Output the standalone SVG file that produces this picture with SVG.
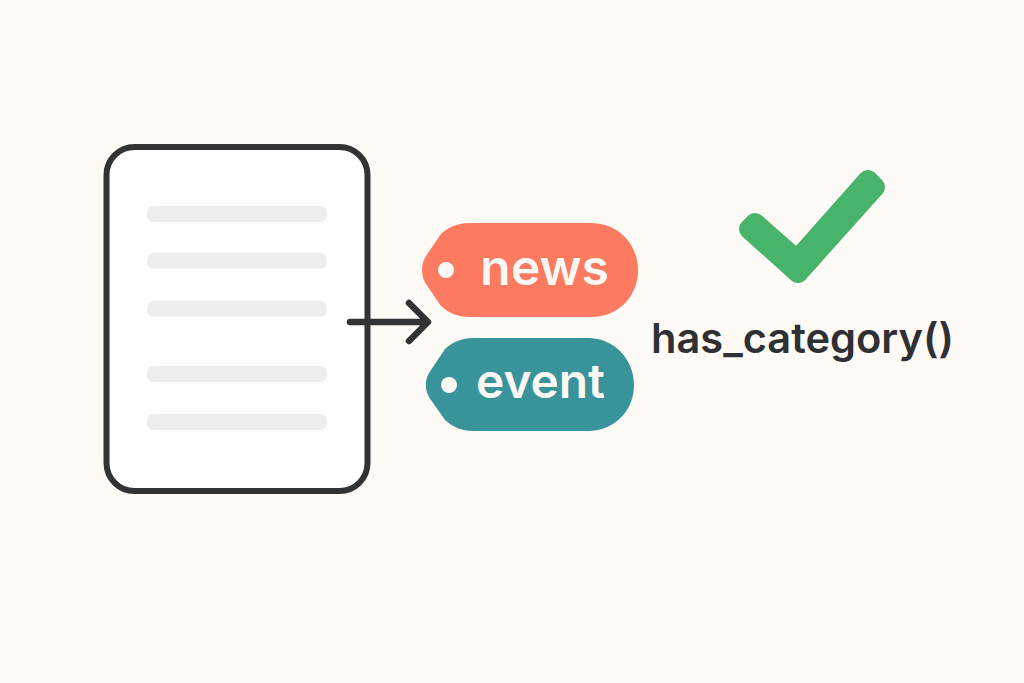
<svg xmlns="http://www.w3.org/2000/svg" width="1024" height="683" viewBox="0 0 1024 683">
<style>
.line{fill:#eceded}
.lbl{font-family:"Inter","Noto Sans","Liberation Sans",sans-serif;font-weight:600;fill:#fcf8f3}
.dot{fill:#fcf8f3}
</style>
<rect width="1024" height="683" fill="#fefbf6"/>
<g id="document">
<rect x="106.500" y="147" width="261" height="344" rx="28" fill="#fefefe" stroke="#323335" stroke-width="6"/>
<rect class="line" x="147" y="206" width="180" height="16" rx="7"/>
<rect class="line" x="147" y="253" width="180" height="16" rx="7"/>
<rect class="line" x="147" y="301" width="180" height="16" rx="7"/>
<rect class="line" x="147" y="366" width="180" height="16" rx="7"/>
<rect class="line" x="147" y="414" width="180" height="16" rx="7"/>
</g>
<g id="connectors">
<path d="M350 322H427M409 303L428 322L409 341" fill="none" stroke="#323335" stroke-width="6.500" stroke-linecap="round" stroke-linejoin="round"/>
</g>
<g id="tag-news">
<path d="M470 223H591C618 223 638 244 638 270C638 297 618 317 591 317H470C457 317 449 313 441 306L428 287C420 277 420 263 428 253L441 234C449 227 457 223 470 223Z" fill="#fb7a60"/>
<circle class="dot" cx="446" cy="270" r="8"/>
<text class="lbl" x="480" y="285" font-size="49" textLength="129" lengthAdjust="spacingAndGlyphs">news</text>
</g>
<g id="tag-event">
<path d="M474 338H588C614 338 634 359 634 385C634 411 614 431 588 431H474C461 431 453 427 445 420L431 400C424 391 424 379 431 370L445 349C453 342 461 338 474 338Z" fill="#38939a"/>
<circle class="dot" cx="449" cy="385" r="8"/>
<text class="lbl" x="476" y="398" font-size="47" textLength="129" lengthAdjust="spacingAndGlyphs">event</text>
</g>
<g id="check">
<path d="M749 229L755 223L797 260L868 180L875 187L798 273Z" fill="#48b46b" stroke="#48b46b" stroke-width="20" stroke-linejoin="round"/>
</g>
<g id="label">
<text x="651" y="353" font-family="Inter,'Noto Sans','Liberation Sans',sans-serif" font-weight="600" font-size="41" fill="#2f3033" textLength="303" lengthAdjust="spacingAndGlyphs">has_category()</text>
</g>
</svg>
